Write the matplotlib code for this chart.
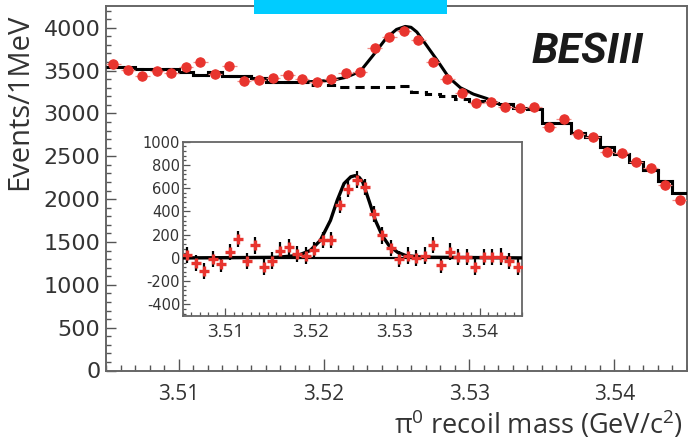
#!/usr/bin/env python3
"""pi0 recoil mass spectrum with fitted signal, BESIII style."""

import matplotlib

matplotlib.use("Agg")
import matplotlib.pyplot as plt
import numpy as np
from matplotlib.patches import Rectangle
from matplotlib.ticker import MultipleLocator

# 1 MeV bins from 3.505 to 3.545 GeV/c^2
bin_edges = 3.505 + 0.001 * np.arange(41)
bin_centers = 0.5 * (bin_edges[:-1] + bin_edges[1:])

# main panel: data points (events / MeV)
data_counts = [
    3573, 3506, 3436, 3498, 3475, 3545, 3603, 3460, 3557, 3382,
    3390, 3417, 3445, 3401, 3370, 3405, 3475, 3483, 3760, 3888,
    3965, 3853, 3598, 3401, 3235, 3121, 3137, 3078, 3060, 3078,
    2845, 2931, 2760, 2721, 2553, 2541, 2429, 2359, 2165, 1989,
]
# background shape (dashed histogram)
bkg_counts = [
    3541, 3541, 3518, 3518, 3518, 3487, 3448, 3487, 3436, 3436,
    3411, 3370, 3370, 3370, 3331, 3331, 3312, 3310, 3305, 3305,
    3320, 3250, 3225, 3205, 3165, 3140, 3120, 3110, 3060, 3050,
    2891, 2886, 2767, 2721, 2611, 2526, 2437, 2345, 2210, 2068,
]
# total fit in the peak region
fit_peak_mass = [3.5190, 3.5205, 3.5215, 3.5225, 3.5234, 3.5243, 3.5250,
                 3.5256, 3.5260, 3.5264, 3.5270, 3.5278, 3.5286, 3.5294,
                 3.5303, 3.5312, 3.5320]
fit_peak_counts = [3370, 3385, 3420, 3490, 3680, 3880, 3980,
                   4015, 4005, 3950, 3810, 3620, 3420, 3300,
                   3225, 3175, 3115]
peak_lo_bin, peak_hi_bin = 14, 27

# inset: background-subtracted data
sub_counts = [
    26, -46, -110, -9, -52, 49, 164, -29, 107, -75,
    -23, 63, 92, 35, 20, 69, 156, 156, 458, 597,
    674, 611, 380, 193, 84, -9, 20, 0, 20, 112,
    -58, 55, 6, 6, -81, 6, 6, 12, -29, -81,
]
sig_mass = [3.5050, 3.5160, 3.5185, 3.5200, 3.5212, 3.5224, 3.5232, 3.5240,
            3.5248, 3.5253, 3.5258, 3.5262, 3.5270, 3.5277, 3.5285,
            3.5293, 3.5303, 3.5313, 3.5333, 3.5450]
sig_counts = [0, 5, 20, 63, 150, 323, 496, 640,
              698, 708, 692, 654, 481, 323, 193,
              107, 49, 20, 6, 0]

RED = "#e8342e"
TEXT = "#333333"
FONT = ["Open Sans", "DejaVu Sans"]
WIDE = ["DejaVu Sans"]

plt.rcParams["font.family"] = FONT
plt.rcParams["mathtext.fontset"] = "custom"
plt.rcParams["mathtext.rm"] = "Open Sans"
plt.rcParams["axes.unicode_minus"] = False

fig = plt.figure(figsize=(6.88, 4.41), dpi=100)
ax = fig.add_axes([106 / 688, 1 - 370.5 / 441, 581 / 688, 364.2 / 441])

ax.stairs(bkg_counts, bin_edges, baseline=None, color="black", linewidth=2.2,
          linestyle=(0, (3, 2)), zorder=2)
ax.stairs(bkg_counts[:peak_lo_bin], bin_edges[:peak_lo_bin + 1], baseline=None,
          color="black", linewidth=2.2, zorder=3)
ax.stairs(bkg_counts[peak_hi_bin:], bin_edges[peak_hi_bin:], baseline=None,
          color="black", linewidth=2.2, zorder=3)
ax.plot(fit_peak_mass, fit_peak_counts, color="black", linewidth=2.2, zorder=3)
ax.errorbar(bin_centers, data_counts, xerr=0.0005, yerr=60, fmt="o",
            color=RED, ms=6.5, ecolor="#f08a84", elinewidth=0.9, capsize=0,
            zorder=4)

ax.set_xlim(3.505, 3.545)
ax.set_ylim(0, 4250)
ax.xaxis.set_major_locator(MultipleLocator(0.01))
ax.xaxis.set_minor_locator(MultipleLocator(0.001))
ax.yaxis.set_major_locator(MultipleLocator(500))
ax.yaxis.set_minor_locator(MultipleLocator(100))
ax.tick_params(which="both", direction="in", colors="#555555",
               labelcolor=TEXT, width=1.0)
ax.tick_params(axis="x", which="major", length=9, pad=10, labelsize=15)
ax.tick_params(axis="x", which="minor", length=4.5)
ax.tick_params(axis="y", which="major", length=7, pad=4, labelsize=16)
ax.tick_params(axis="y", which="minor", length=3.5)
for lab in ax.get_yticklabels():
    lab.set_family(WIDE)
for spine in ax.spines.values():
    spine.set_color("#666666")
    spine.set_linewidth(1.4)

ax.set_ylabel("Events/1MeV", fontsize=21, color=TEXT)
ax.set_xlabel(r"$\mathregular{\pi^0}$ recoil mass (GeV/c$\mathregular{^2}$)",
              fontsize=19.5, color=TEXT)
ax.xaxis.set_label_coords(0.993, -0.105)
ax.xaxis.label.set_horizontalalignment("right")
ax.yaxis.set_label_coords(-0.124, 0.739)

ax.text(0.925, 0.875, "BESIII", transform=ax.transAxes, ha="right", va="center",
        fontsize=31, fontweight="bold", fontstyle="italic", color="#1a1a1a",
        family=["Liberation Sans Narrow", "Roboto", "DejaVu Sans"])

# inset with the background-subtracted spectrum
ins = fig.add_axes([183 / 688, 1 - 316 / 441, 339 / 688, 174.3 / 441])
ins.axhline(0, color="black", linewidth=1.6, zorder=2)
ins.plot(sig_mass, sig_counts, color="black", linewidth=2.4, zorder=3)
ins.errorbar(bin_centers, sub_counts, yerr=70, fmt="none", ecolor="black",
             elinewidth=1.6, capsize=0, zorder=4)
ins.plot(bin_centers, sub_counts, "+", color=RED, ms=7, mew=2.4, zorder=5)
ins.set_xlim(3.505, 3.545)
ins.set_ylim(-500, 1000)
ins.xaxis.set_major_locator(MultipleLocator(0.01))
ins.xaxis.set_minor_locator(MultipleLocator(0.001))
ins.yaxis.set_major_locator(MultipleLocator(200))
ins.yaxis.set_minor_locator(MultipleLocator(40))
ins.tick_params(which="both", direction="in", colors="#555555",
                labelcolor=TEXT, width=0.9)
ins.tick_params(axis="x", which="major", length=6, pad=5, labelsize=13.5)
ins.tick_params(axis="x", which="minor", length=3)
ins.tick_params(axis="y", which="major", length=5, pad=2, labelsize=10.5)
ins.tick_params(axis="y", which="minor", length=2.5)
for lab in ins.get_yticklabels():
    lab.set_family(WIDE)
for spine in ins.spines.values():
    spine.set_color("#666666")
    spine.set_linewidth(1.3)

# cyan banner cut by the top edge of the picture
fig.patches.append(Rectangle((254 / 688, 1 - 13.5 / 441), 193 / 688, 13.5 / 441,
                             transform=fig.transFigure, facecolor="#00ccff",
                             edgecolor="none", zorder=10))

fig.savefig("out.png", dpi=100)
